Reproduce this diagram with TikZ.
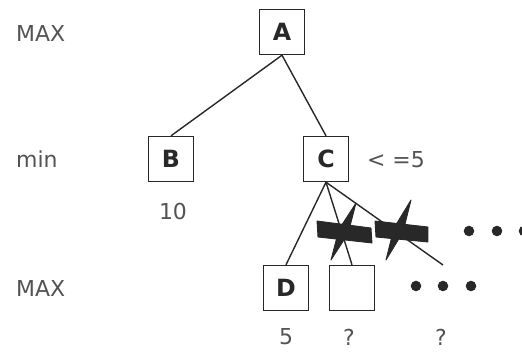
\documentclass[tikz,border=0pt]{standalone}
\usepackage{fontspec}
\setmainfont{DejaVu Sans}
\definecolor{ink}{RGB}{40,40,40}
\begin{document}
\begin{tikzpicture}[
  x=0.02cm, y=-0.02cm,
  tnode/.style={rectangle, draw=ink, line width=0.9pt, minimum size=25.5pt, inner sep=0pt, font=\fontsize{13.5}{13.5}\selectfont\bfseries, text=ink},
  lbl/.style={font=\fontsize{12.5}{12.5}\selectfont, text=ink!80},
  edge/.style={line width=0.8pt, draw=ink},
  cut/.style={fill=ink, draw=ink, line width=0.5pt, line join=round},
  dot/.style={circle, fill=ink, inner sep=0pt, minimum size=6pt}
]
  \useasboundingbox (0,0) rectangle (522,352);

  % --- Niveles ---
  \node[lbl, anchor=west] (l1) at (10, 33) {MAX};
  \node[lbl, anchor=west] (l2) at (10, 159) {min};
  \node[lbl, anchor=west] (l3) at (10, 288) {MAX};

  % --- Nodos ---
  \node[tnode] (A) at (282, 32) {A};
  \node[tnode] (B) at (171, 159) {B};
  \node[tnode] (C) at (326, 159) {C};
  \node[tnode] (D) at (286, 288) {D};
  \node[tnode] (E) at (352, 288) {};
  \coordinate (F) at (443, 265);

  \draw[edge] (A.south) -- (B.north);
  \draw[edge] (A.south) -- (C.north);
  \draw[edge] (C.south) -- (D.north);
  \draw[edge] (C.south) -- (E.north);
  \draw[edge] (C.south) -- (F);

  % --- Valores ---
  \node[lbl] (vb) at (173, 212) {10};
  \node[lbl] (vc) at (396, 160) {< =5};
  \node[lbl] (vd) at (286, 337) {5};
  \node[lbl] (ve) at (349, 337) {?};
  \node[lbl] (vf) at (441, 337) {?};

  % --- Podas ---
  \filldraw[cut] (317, 221) -- (371, 228) -- (372, 243) -- (318, 237) -- cycle;
  \filldraw[cut] (356, 203) -- (348.1, 233.5) -- (331, 260) -- (338.9, 229.5) -- cycle;
  \filldraw[cut] (375, 221) -- (428, 227) -- (428, 242) -- (376, 237) -- cycle;
  \filldraw[cut] (411, 200) -- (403.1, 231.9) -- (386, 260) -- (393.9, 228.1) -- cycle;

  % --- Puntos ---
  \foreach \px in {469, 497, 524} \node[dot] at (\px, 231) {};
  \foreach \px in {416, 443, 471} \node[dot] at (\px, 286) {};
\end{tikzpicture}
\end{document}
